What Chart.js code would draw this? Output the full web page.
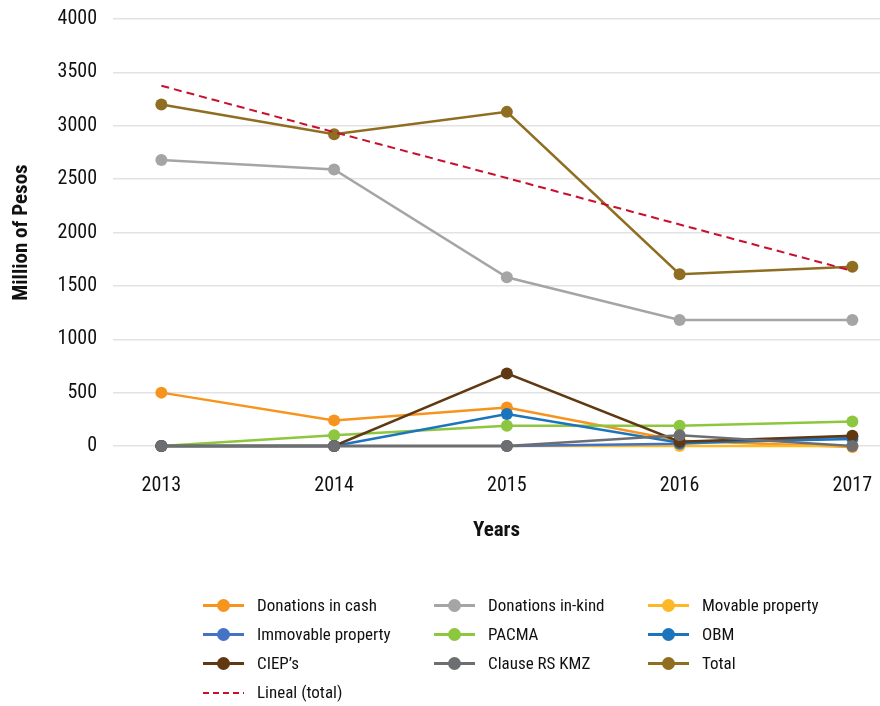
<!DOCTYPE html>
<html>
<head>
<meta charset="utf-8">
<script src="https://cdn.jsdelivr.net/npm/chart.js@4/dist/chart.umd.min.js"></script>
<style>
    html, body { margin: 0; padding: 0; background: #fff; }
    #wrap { position: relative; width: 880px; height: 706px; }
    #legend {
        position: absolute; left: 203px; top: 593px;
        display: grid; grid-template-columns: 231px 214px 200px; row-gap: 5px;
        font-family: "Roboto Condensed", Roboto, sans-serif;
        font-size: 17px; color: #111;
    }
    .item { display: flex; align-items: center; height: 24px; }
    .swatch { position: relative; width: 41px; height: 24px; margin-right: 13px; }
    .swatch .ln { position: absolute; left: 0; right: 0; top: 11px; height: 3px; }
    .swatch .dot { position: absolute; left: 14px; top: 6px; width: 13px; height: 13px; border-radius: 50%; }
</style>
</head>
<body>
<div id="wrap">
    <canvas id="chart" width="880" height="706"></canvas>
    <div id="legend"></div>
</div>
<script>
// ── Data ──────────────────────────────────────────────────────
const years = [2013, 2014, 2015, 2016, 2017];

const donationsCash   = [500, 240, 360, 50, -10];
const donationsKind   = [2680, 2590, 1580, 1180, 1180];
const movableProperty = [0, 0, 0, 0, 0];
const immovableProp   = [0, 0, 0, 20, 90];
const pacma           = [0, 100, 190, 190, 230];
const obm             = [0, 0, 300, 30, 65];
const cieps           = [0, 0, 680, 40, 95];
const clauseRsKmz     = [0, 0, 0, 100, 0];
const total           = [3200, 2920, 3130, 1610, 1680];
const linealTotal     = [3375, 2940, 2510, 2075, 1640];

const yTicks = [0, 500, 1000, 1500, 2000, 2500, 3000, 3500, 4000];

const FONT = '"Roboto Condensed", Roboto, sans-serif';

// series in Excel order: later ones are painted on top
const series = [
    { label: 'Donations in cash', data: donationsCash,   color: '#f7941d' },
    { label: 'Donations in-kind', data: donationsKind,   color: '#a5a5a5' },
    { label: 'Movable property',  data: movableProperty, color: '#fdb827' },
    { label: 'Immovable property',data: immovableProp,   color: '#4472c4' },
    { label: 'PACMA',             data: pacma,           color: '#8dc63f' },
    { label: 'OBM',               data: obm,             color: '#1c75bc' },
    { label: 'CIEP\u2019s',       data: cieps,           color: '#603913' },
    { label: 'Clause RS KMZ',     data: clauseRsKmz,     color: '#6d6e71' },
    { label: 'Total',             data: total,           color: '#8f6d21' }
];

const datasets = series.map((s, i) => ({
    label: s.label,
    data: s.data,
    borderColor: s.color,
    backgroundColor: s.color,
    borderWidth: 2.5,
    pointRadius: 6,
    pointHoverRadius: 6,
    pointBorderWidth: 0,
    tension: 0,
    clip: false,
    order: 20 - i
}));

datasets.push({
    label: 'Lineal (total)',
    data: linealTotal,
    borderColor: '#c8102e',
    backgroundColor: '#c8102e',
    borderWidth: 2,
    borderDash: [8, 5],
    pointRadius: 0,
    tension: 0,
    order: 0
});

// ── Chart ─────────────────────────────────────────────────────
function drawChart() {
    const ctx = document.getElementById('chart').getContext('2d');

    new Chart(ctx, {
        type: 'line',
        data: { labels: years, datasets: datasets },
        options: {
            responsive: false,
            animation: false,
            layout: { autoPadding: false, padding: { top: 19, right: 0, bottom: 161, left: 0 } },
            plugins: { legend: { display: false }, tooltip: { enabled: false } },
            scales: {
                x: {
                    type: 'linear',
                    min: 2012.72,
                    max: 2017.16,
                    afterBuildTicks: scale => { scale.ticks = years.map(v => ({ value: v })); },
                    afterFit: scale => {
                        scale.height = 99;
                        scale.paddingLeft = 0;
                        scale.paddingRight = 0;
                    },
                    grid: { display: false },
                    border: { display: false },
                    ticks: {
                        padding: 20,
                        color: '#111',
                        font: { family: FONT, size: 20 },
                        callback: v => String(v)
                    },
                    title: {
                        display: true,
                        text: 'Years',
                        color: '#111',
                        font: { family: FONT, size: 21, weight: 'bold' },
                        padding: { top: 0, bottom: 2 }
                    }
                },
                y: {
                    min: 0,
                    max: 4000,
                    afterBuildTicks: scale => { scale.ticks = yTicks.map(v => ({ value: v })); },
                    afterFit: scale => {
                        scale.width = 113;
                        scale.paddingTop = 0;
                        scale.paddingBottom = 0;
                    },
                    grid: { color: '#e3e3e3', lineWidth: 1.5, drawTicks: false },
                    border: { display: false },
                    ticks: {
                        padding: 16,
                        color: '#111',
                        font: { family: FONT, size: 20 },
                        callback: v => String(v)
                    },
                    title: {
                        display: true,
                        text: 'Million of Pesos',
                        color: '#111',
                        font: { family: FONT, size: 21, weight: 'bold' },
                        padding: { top: 9, bottom: 0 }
                    }
                }
            }
        }
    });
}

// ── Legend (three fixed columns) ─────────────────────────────
function buildLegend() {
    const box = document.getElementById('legend');
    let html = '';
    series.forEach(s => {
        html += `
            <div class="item">
                <span class="swatch"><span class="ln" style="background:${s.color}"></span><span class="dot" style="background:${s.color}"></span></span>
                <span>${s.label}</span>
            </div>`;
    });
    html += `
        <div class="item">
            <span class="swatch"><span class="ln" style="background:repeating-linear-gradient(90deg,#c8102e 0 6px,transparent 6px 10px);height:2px;top:12px"></span></span>
            <span>Lineal (total)</span>
        </div>`;
    box.innerHTML = html;
}

// ── Boot: make sure the condensed face is ready before drawing ─
buildLegend();
Promise.all([
    document.fonts.load('20px "Roboto Condensed"'),
    document.fonts.load('bold 20px "Roboto Condensed"')
]).catch(() => {}).then(drawChart);
</script>
</body>
</html>
